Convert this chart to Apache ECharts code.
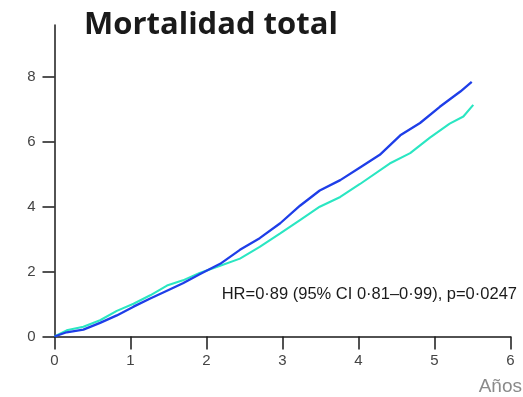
<!DOCTYPE html>
<html>
<head>
<meta charset="utf-8">
<script src="https://cdn.jsdelivr.net/npm/echarts@6/dist/echarts.min.js"></script>
<style>
  html, body { margin: 0; padding: 0; background: #fff; }
  #chart { width: 523px; height: 397px; }
</style>
</head>
<body>
<div id="chart"></div>
<script>
// Cumulative total mortality (%) over follow-up years, two treatment arms
const titleText = 'Mortalidad total';
const xAxisName = 'Años';
const statsNote = 'HR=0·89 (95% CI 0·81–0·99), p=0·0247';

const xTicks = [0, 1, 2, 3, 4, 5, 6];
const yTicks = [0, 2, 4, 6, 8];

const blueYears  = [0, 0.16, 0.38, 0.60, 0.82, 1.04, 1.26, 1.48, 1.69, 1.91, 2.18, 2.44, 2.70, 2.97, 3.23, 3.49, 3.76, 4.02, 4.28, 4.55, 4.81, 5.07, 5.34, 5.49];
const blueValues = [0, 0.13, 0.21, 0.42, 0.65, 0.92, 1.17, 1.41, 1.64, 1.92, 2.24, 2.67, 3.03, 3.49, 4.03, 4.50, 4.82, 5.21, 5.60, 6.20, 6.58, 7.08, 7.55, 7.85];

const tealYears  = [0, 0.16, 0.38, 0.60, 0.82, 1.04, 1.26, 1.48, 1.69, 1.91, 2.18, 2.44, 2.70, 2.97, 3.23, 3.49, 3.76, 4.02, 4.41, 4.68, 4.94, 5.20, 5.38, 5.51];
const tealValues = [0, 0.19, 0.30, 0.50, 0.79, 1.01, 1.27, 1.57, 1.73, 1.96, 2.18, 2.40, 2.76, 3.18, 3.59, 4.00, 4.30, 4.70, 5.33, 5.65, 6.13, 6.56, 6.78, 7.14];

const pairs = (xs, ys) => xs.map((x, i) => [x, ys[i]]);

const axisColor = '#1a1a1a';
const labelFont = '"Liberation Sans Narrow", "Liberation Sans", Arial, sans-serif';

const chart = echarts.init(document.getElementById('chart'), null, { renderer: 'canvas' });

chart.setOption({
  animation: false,
  backgroundColor: '#ffffff',
  grid: { left: 54.5, right: 12.5, top: 25, bottom: 60.5, containLabel: false },
  xAxis: {
    type: 'value',
    min: 0,
    max: 6,
    interval: 1,
    axisLine: { show: true, lineStyle: { color: axisColor, width: 1.5 } },
    axisTick: { show: true, inside: false, length: 13, lineStyle: { color: axisColor, width: 1.5 }, customValues: xTicks },
    axisLabel: { color: '#444', fontSize: 15, fontFamily: labelFont, margin: 17, customValues: xTicks },
    splitLine: { show: false }
  },
  yAxis: {
    type: 'value',
    min: 0,
    max: 9.6,
    axisLine: { show: true, lineStyle: { color: axisColor, width: 1.5 } },
    axisTick: { show: true, inside: false, length: 12, lineStyle: { color: axisColor, width: 1.5 }, customValues: yTicks },
    axisLabel: { color: '#444', fontSize: 15, fontFamily: labelFont, margin: 19, customValues: yTicks },
    splitLine: { show: false }
  },
  series: [
    {
      type: 'line',
      name: 'blue',
      data: pairs(blueYears, blueValues),
      showSymbol: false,
      lineStyle: { color: '#1e3ee8', width: 2.3 },
      z: 3
    },
    {
      type: 'line',
      name: 'teal',
      data: pairs(tealYears, tealValues),
      showSymbol: false,
      lineStyle: { color: '#2ae6c2', width: 2.1 },
      z: 2
    }
  ],
  graphic: [
    {
      type: 'text',
      left: 84,
      top: 10,
      style: {
        text: titleText,
        font: 'bold 31px "Open Sans", "Noto Sans", sans-serif',
        fill: '#1a1a1a'
      }
    },
    {
      type: 'text',
      right: 6,
      top: 286,
      style: {
        text: statsNote,
        font: '16.5px ' + labelFont,
        fill: '#1a1a1a'
      }
    },
    {
      type: 'text',
      right: 1,
      top: 377,
      style: {
        text: xAxisName,
        font: '19px "Liberation Sans", Arial, sans-serif',
        fill: '#8a8a8a'
      }
    }
  ]
});
</script>
</body>
</html>
